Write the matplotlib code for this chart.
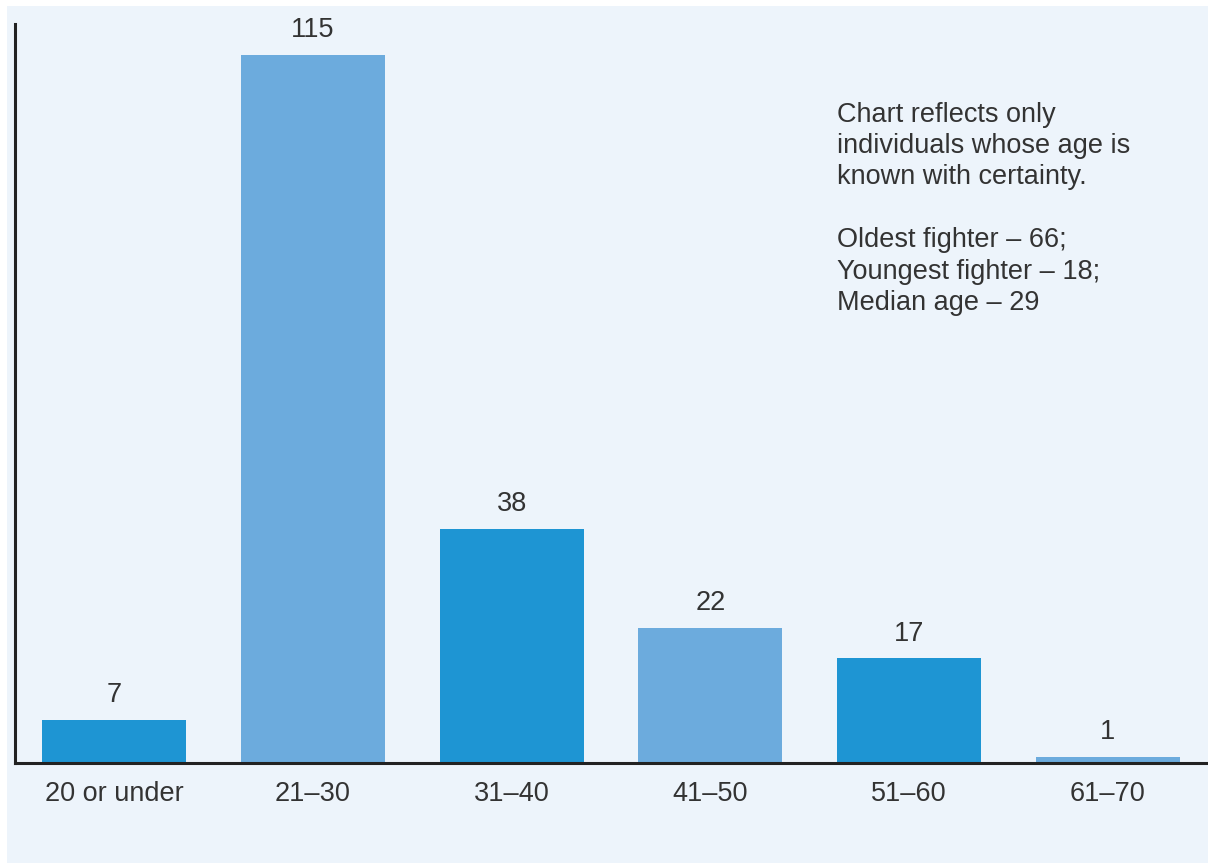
import matplotlib
matplotlib.use("Agg")
import matplotlib.pyplot as plt
from matplotlib.patches import Rectangle

plt.rcParams["font.family"] = ["Liberation Sans", "DejaVu Sans"]

# data
age_groups = ["20 or under", "21–30", "31–40", "41–50", "51–60", "61–70"]
fighters = [7, 115, 38, 22, 17, 1]
bar_colors = ["#1e95d3", "#6cabdd", "#1e95d3", "#6cabdd", "#1e95d3", "#6cabdd"]
note = ("Chart reflects only\nindividuals whose age is\nknown with certainty.\n\n"
        "Oldest fighter – 66;\nYoungest fighter – 18;\nMedian age – 29")

text_col = "#333333"
bg = "#edf4fb"

fig = plt.figure(figsize=(12.08, 8.63), dpi=100)
fig.patch.set_facecolor("white")
# light panel behind the chart
fig.patches.append(Rectangle((7 / 1208, 0), 1 - 7 / 1208, 1 - 6 / 863,
                             transform=fig.transFigure, facecolor=bg,
                             edgecolor="none", zorder=-5))

ax = fig.add_axes([15 / 1208, 100 / 863, 1192 / 1208, 739 / 863])
ax.set_facecolor("none")

x = range(len(age_groups))
bars = ax.bar(x, fighters, width=0.724, color=bar_colors, zorder=2)

for b, v in zip(bars, fighters):
    ax.annotate(str(v), (b.get_x() + b.get_width() / 2, v),
                xytext=(0, 8.5), textcoords="offset points",
                ha="center", va="bottom", fontsize=19.5, color=text_col)

ax.set_xlim(-0.5, 5.5)
ax.set_ylim(0, 120)
ax.set_xticks(list(x))
ax.set_xticklabels(age_groups, fontsize=19.5, color=text_col)
ax.tick_params(axis="x", length=0, pad=13)
ax.set_yticks([])

for s in ["top", "right"]:
    ax.spines[s].set_visible(False)
for s in ["left", "bottom"]:
    ax.spines[s].set_color("#222222")
    ax.spines[s].set_linewidth(2.2)

ax.text(0.690, 0.895, note, transform=ax.transAxes, ha="left", va="top",
        fontsize=19.5, color=text_col, linespacing=1.27)

fig.savefig("out.png", dpi=100, facecolor=fig.get_facecolor())
